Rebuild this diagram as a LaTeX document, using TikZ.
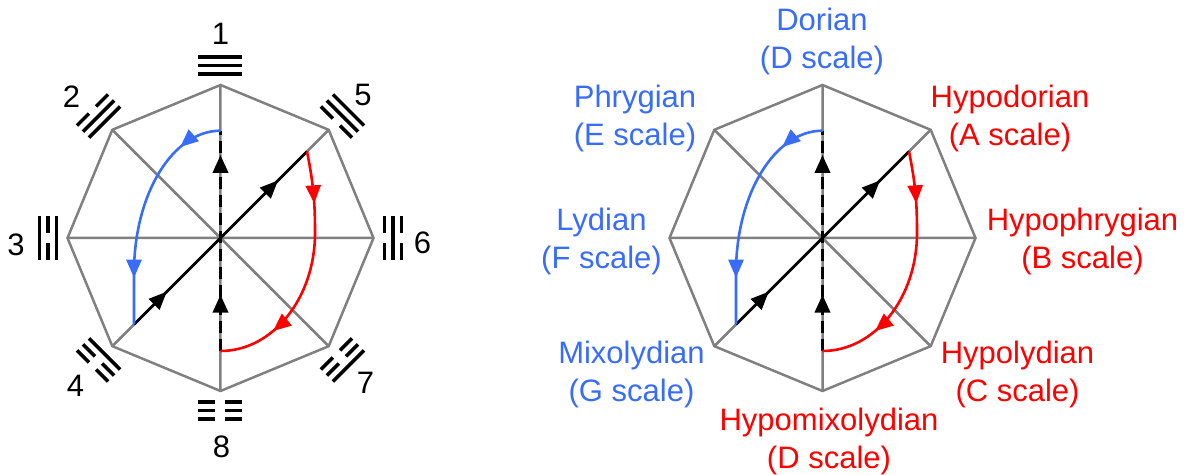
\documentclass[tikz,border=0pt]{standalone}
\usepackage{fontspec}
\setmainfont{Liberation Sans}
\usetikzlibrary{arrows.meta,decorations.markings}
\definecolor{modeblue}{RGB}{56,108,250}
\definecolor{modered}{RGB}{255,0,0}
\definecolor{octgray}{RGB}{128,128,128}

\begin{document}
\begin{tikzpicture}[x=0.5pt, y=0.5pt,
    >={Triangle[length=9pt, width=7.5pt]},
    edge/.style={draw=octgray, line width=1.25pt},
    yang/.style={line width=1.75pt},
    yin/.style={yang, dash pattern=on 8.5pt off 5pt},
    twotips/.style 2 args={postaction={decorate}, decoration={markings,
        mark=at position #1 with {\arrow{>}}, mark=at position #2 with {\arrow{>}}}},
    walk/.style={line width=1.3pt},
    leap/.style={line width=1.8pt, dash pattern=on 6pt off 3pt},
    num/.style={inner sep=0pt, font=\fontsize{15.5}{19}\selectfont},
    mode/.style={num, align=center}]

    \useasboundingbox (-220.5,238) rectangle (968.5,-237);

    % Two wheels, the same lines on both
    \foreach \dx/\s in {0/L, 602/R} {
      \begin{scope}[shift={(\dx,0)}]
        \coordinate (\s0) at (0,0);
        \coordinate (\s1) at (90:153);
        \coordinate (\s2) at (135:153);
        \coordinate (\s3) at (180:153);
        \coordinate (\s4) at (225:153);
        \coordinate (\s5) at (45:153);
        \coordinate (\s6) at (0:153);
        \coordinate (\s7) at (-45:153);
        \coordinate (\s8) at (-90:153);
        \draw[edge] (\s1) -- (\s2) -- (\s3) -- (\s4) -- (\s8) -- (\s7) -- (\s6) -- (\s5) -- cycle;
        \draw[edge] (\s1) -- (\s8) (\s2) -- (\s7) (\s3) -- (\s6) (\s4) -- (\s5);

        % Ends of the moves
        \coordinate (\s top) at (0,107.3);
        \coordinate (\s bot) at (0,-112.7);
        \coordinate (\s ne) at (86.5,86.5);
        \coordinate (\s sw) at (-86.5,-86.5);
        \coordinate (\s east) at (94.5,5);

        % Moves
        \draw[leap, twotips={0.255}{0.89}] (\s bot) -- (\s top);
        \draw[walk, twotips={0.19}{0.835}] (\s sw) -- (\s ne);
        \draw[walk, modeblue, twotips={0.19}{0.8}] (\s top)
            arc[start angle=90, end angle=180, x radius=86.5, y radius=142] -- (\s sw);
        \draw[walk, modered, twotips={0.21}{0.77}] (\s ne) .. controls +(7,-35) and +(0,28) .. (\s east)
            arc[start angle=0, end angle=-90, x radius=94.5, y radius=118];
      \end{scope}
    }

    % Trigrams, inner bar first
    \foreach \ang/\a/\b/\c in {90/yang/yang/yang, 135/yang/yang/yin, 180/yang/yin/yang,
        225/yang/yin/yin, 45/yin/yang/yang, 0/yin/yang/yin, -45/yin/yin/yang, -90/yin/yin/yin} {
      \begin{scope}[rotate=\ang-90]
        \draw[\a] (-22,164) -- (22,164);
        \draw[\b] (-22,172.5) -- (22,172.5);
        \draw[\c] (-22,181) -- (22,181);
      \end{scope}
    }

    % Numbers
    \node[num] (n1) at (0,204) {1};
    \node[num] (n2) at (-149,141) {2};
    \node[num] (n3) at (-204.5,-7) {3};
    \node[num] (n4) at (-145,-148) {4};
    \node[num] (n5) at (142.5,143) {5};
    \node[num] (n6) at (202,-5) {6};
    \node[num] (n7) at (145,-145) {7};
    \node[num] (n8) at (1,-208.5) {8};

    % Modes
    \node[mode, modeblue] (dorian) at (601.5,197) {Dorian\\(D scale)};
    \node[mode, modeblue] (phrygian) at (414.5,119.5) {Phrygian\\(E scale)};
    \node[mode, modeblue] (lydian) at (381,-3) {Lydian\\(F scale)};
    \node[mode, modeblue] (mixolydian) at (411,-136) {Mixolydian\\(G scale)};
    \node[mode, modered] (hypodorian) at (789.5,119.5) {Hypodorian\\(A scale)};
    \node[mode, modered] (hypophrygian) at (862,-3) {Hypophrygian\\(B scale)};
    \node[mode, modered] (hypolydian) at (797,-136) {Hypolydian\\(C scale)};
    \node[mode, modered] (hypomixolydian) at (608.5,-203) {Hypomixolydian\\(D scale)};
\end{tikzpicture}
\end{document}
